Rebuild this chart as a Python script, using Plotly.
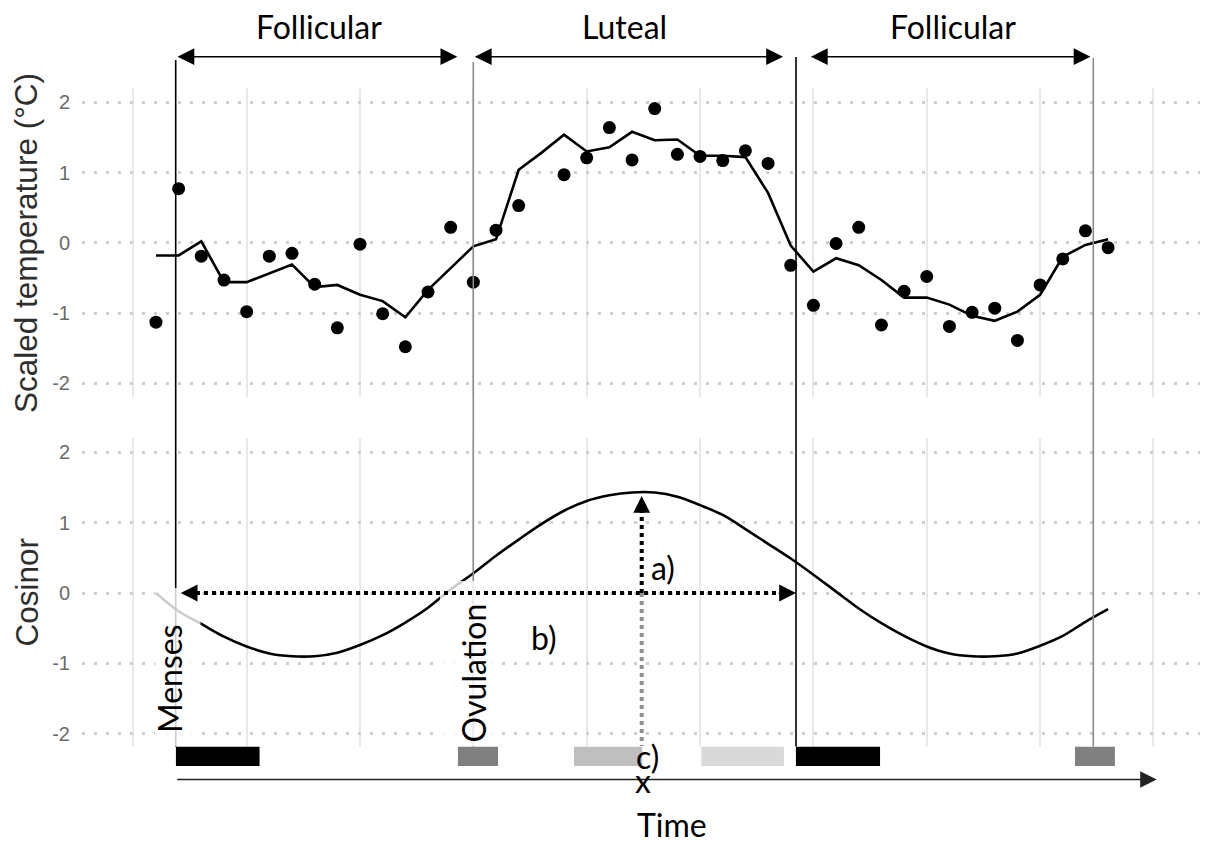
import plotly.graph_objects as go

# ---------------- data ----------------
days = list(range(1, 44))

temp_points = [-1.13, 0.77, -0.19, -0.53, -0.98, -0.19, -0.15, -0.59, -1.21, -0.02,
               -1.01, -1.48, -0.70, 0.22, -0.56, 0.18, 0.53, None, 0.97, 1.21,
               1.64, 1.18, 1.91, 1.26, 1.23, 1.17, 1.31, 1.13, -0.32, -0.89,
               -0.01, 0.22, -1.17, -0.69, -0.48, -1.19, -0.99, -0.93, -1.39, -0.60,
               -0.23, 0.17, -0.07]

temp_smooth = [-0.18, -0.18, 0.02, -0.56, -0.56, -0.43, -0.31, -0.63, -0.60, -0.74,
               -0.83, -1.06, -0.67, -0.36, -0.05, 0.05, 1.04, 1.28, 1.54, 1.30,
               1.36, 1.58, 1.46, 1.47, 1.24, 1.24, 1.22, 0.71, -0.04, -0.41,
               -0.22, -0.32, -0.53, -0.78, -0.78, -0.88, -1.04, -1.11, -0.98, -0.74,
               -0.20, -0.03, 0.05]

cosinor = [0.00, -0.26, -0.44, -0.62, -0.76, -0.86, -0.90, -0.90, -0.85, -0.74,
           -0.60, -0.42, -0.21, 0.05, 0.28, 0.53, 0.76, 0.98, 1.17, 1.31,
           1.39, 1.43, 1.43, 1.37, 1.25, 1.11, 0.91, 0.70, 0.49, 0.26,
           0.02, -0.22, -0.43, -0.61, -0.76, -0.86, -0.90, -0.90, -0.86, -0.75,
           -0.61, -0.41, -0.23]

bar_labels = ["Menses", "Ovulation", "Luteal early", "Luteal late", "Menses", "Ovulation"]
bar_start = [1.88, 14.32, 19.44, 25.06, 29.23, 41.54]
bar_end = [5.57, 16.09, 22.45, 28.70, 32.94, 43.30]
bar_colors = ["#000000", "#808080", "#bfbfbf", "#d9d9d9", "#000000", "#808080"]

y_ticks = [-2, -1, 0, 1, 2]
x_grid = list(range(0, 50, 5))
phase_names = ["Follicular", "Luteal", "Follicular"]

# ---------------- geometry helpers ----------------
# positions below are given in reference-image pixels; the page body has an
# 8px default margin, so the figure is made 8px smaller and shifted.
OFF = 8
W, H = 1208, 846
FW, FH = W - OFF, H - OFF
ML = 82                # plot-area left edge (reference px)
PX0 = 133.3            # reference pixel of day 0
PPD = 22.67            # pixels per day


def dx(px):
    return (px - PX0) / PPD


def pyp(p):
    return 1 - (p - OFF) / FH


def pxp(px):
    return (px - ML) / (W - ML)


x_range = [dx(ML), dx(W)]
Z2, S2 = 593.0, 70.3   # bottom panel: pixel of 0, pixels per unit


def v2(p):
    return (Z2 - p) / S2


SANS = "Lato, 'Noto Sans', sans-serif"
ARIAL = "'Liberation Sans', Arial, sans-serif"

fig = go.Figure()
fig.add_trace(go.Scatter(x=days, y=temp_smooth, mode="lines",
                         line=dict(color="black", width=2.6),
                         xaxis="x", yaxis="y", hoverinfo="skip"))
fig.add_trace(go.Scatter(x=days, y=temp_points, mode="markers",
                         marker=dict(color="black", size=13),
                         xaxis="x", yaxis="y", hoverinfo="skip"))
fig.add_trace(go.Scatter(x=days, y=cosinor, mode="lines",
                         line=dict(color="black", width=2.6, shape="spline", smoothing=1.0),
                         xaxis="x2", yaxis="y2", hoverinfo="skip"))
fig.add_trace(go.Bar(base=bar_start, x=[e - s for s, e in zip(bar_start, bar_end)],
                     y=[0.5] * len(bar_start), orientation="h", width=1,
                     marker=dict(color=bar_colors, line=dict(width=0)),
                     text=bar_labels, textposition="none",
                     xaxis="x3", yaxis="y3", hoverinfo="skip"))

xcommon = dict(range=x_range, tickmode="array", tickvals=x_grid, showticklabels=False,
               showgrid=True, gridcolor="#e8e8e8", gridwidth=2, zeroline=False,
               showline=False, ticks="")
ycommon = dict(tickmode="array", tickvals=y_ticks, ticktext=[str(t) for t in y_ticks],
               showgrid=True, gridcolor="#cfcfcf", gridwidth=2.5, griddash="3px,9px",
               zeroline=False, showline=False, ticks="",
               tickfont=dict(family=ARIAL, size=20, color="#6b6b6b"),
               ticklabelstandoff=11)

fig.update_layout(
    width=FW, height=FH,
    margin=dict(l=ML - OFF, r=0, t=0, b=0),
    paper_bgcolor="white", plot_bgcolor="white",
    showlegend=False,
    xaxis=dict(domain=[0, 1], anchor="y", **xcommon),
    xaxis2=dict(domain=[0, 1], anchor="y2", **xcommon),
    xaxis3=dict(domain=[0, 1], anchor="y3", range=x_range, visible=False),
    yaxis=dict(domain=[pyp(396.7), pyp(88.3)], anchor="x",
               range=[(242.8 - 396.7) / 70.25, (242.8 - 88.3) / 70.25], **ycommon),
    yaxis2=dict(domain=[pyp(748.3), pyp(438.3)], anchor="x2",
                range=[v2(748.3), v2(438.3)], **ycommon),
    yaxis3=dict(domain=[pyp(766), pyp(746.5)], anchor="x3", range=[0, 1], visible=False),
)

shapes = []
# phase boundary lines
for px, col, top in [(175.7, "black", 60), (473.3, "#8c8c8c", 62),
                     (796.0, "black", 57), (1093.3, "#8c8c8c", 58)]:
    shapes.append(dict(type="line", xref="x", yref="paper", x0=dx(px), x1=dx(px),
                       y0=pyp(746.5), y1=pyp(top), line=dict(color=col, width=1.6),
                       layer="above"))
# semi-transparent label boxes (Menses / Ovulation)
for x0, x1, top in [(155, 200.5, 588), (440, 500, 581)]:
    shapes.append(dict(type="rect", xref="x", yref="paper", x0=dx(x0), x1=dx(x1),
                       y0=pyp(746), y1=pyp(top), fillcolor="rgba(255,255,255,0.8)",
                       line=dict(width=0), layer="above"))
# dotted period arrow (b)
shapes.append(dict(type="line", xref="x2", yref="y2", x0=dx(196), x1=dx(781), y0=0, y1=0,
                   line=dict(color="black", width=4, dash="4px,4px"), layer="above"))
# dotted amplitude arrow (a) and acrophase drop (c)
shapes.append(dict(type="line", xref="x2", yref="y2", x0=dx(641.7), x1=dx(641.7),
                   y0=0, y1=v2(510), line=dict(color="black", width=4, dash="4px,4px"),
                   layer="above"))
shapes.append(dict(type="line", xref="x2", yref="y2", x0=dx(641.7), x1=dx(641.7),
                   y0=0, y1=v2(746), line=dict(color="#8f8f8f", width=4, dash="4px,4px"),
                   layer="above"))
fig.update_layout(shapes=shapes)

ann = []
arrow_style = dict(showarrow=True, arrowhead=2, arrowsize=2.1, arrowwidth=1.6,
                   arrowcolor="black", text="")
# phase double arrows
for left, right in [(176.0, 457.3), (473.3, 783.0), (809.4, 1090.5)]:
    ann.append(dict(xref="x", yref="paper", x=dx(right), y=pyp(56.7),
                    axref="pixel", ayref="pixel", ax=-(right - left), ay=0,
                    arrowside="end+start", startarrowhead=2, startarrowsize=2.1,
                    **arrow_style))
# time axis arrow
ann.append(dict(xref="x3", yref="paper", x=dx(1156.7), y=pyp(779.5),
                axref="pixel", ayref="pixel", ax=-(1156.7 - 175.7), ay=0,
                showarrow=True, arrowhead=2, arrowsize=2.2, arrowwidth=1.5,
                arrowcolor="#222222", text=""))
# heads of dotted arrows
ann.append(dict(xref="x2", yref="y2", x=dx(180.7), y=0, ax=17, ay=0, **arrow_style))
ann.append(dict(xref="x2", yref="y2", x=dx(796), y=0, ax=-17, ay=0, **arrow_style))
ann.append(dict(xref="x2", yref="y2", x=dx(641.7), y=v2(496), ax=0, ay=17, **arrow_style))


# text labels
def label(text, px, py_, size=32, angle=0, color="black", family=SANS):
    return dict(xref="paper", yref="paper", x=pxp(px), y=pyp(py_), text=text,
                showarrow=False, xanchor="center", yanchor="middle", textangle=angle,
                borderpad=0, font=dict(family=family, size=size, color=color))


ann.append(label(phase_names[0], 319, 27))
ann.append(label(phase_names[1], 624, 27))
ann.append(label(phase_names[2], 953, 27))
ann.append(label("Menses", 169, 679, angle=-90))
ann.append(label("Ovulation", 472.5, 673, angle=-90))
ann.append(label("a)", 663, 567))
ann.append(label("b)", 543.5, 637))
ann.append(label("c)", 647, 756))
ann.append(label("x", 643, 780))
ann.append(label("Time", 672, 824))
ann.append(label("Scaled temperature (°C)", 26.5, 243.5, size=31.5, angle=-90,
                 color="#2e2e2e", family=ARIAL))
ann.append(label("Cosinor", 26.5, 592, size=31.5, angle=-90, color="#2e2e2e", family=ARIAL))
fig.update_layout(annotations=ann)

fig.write_html("out.html")
